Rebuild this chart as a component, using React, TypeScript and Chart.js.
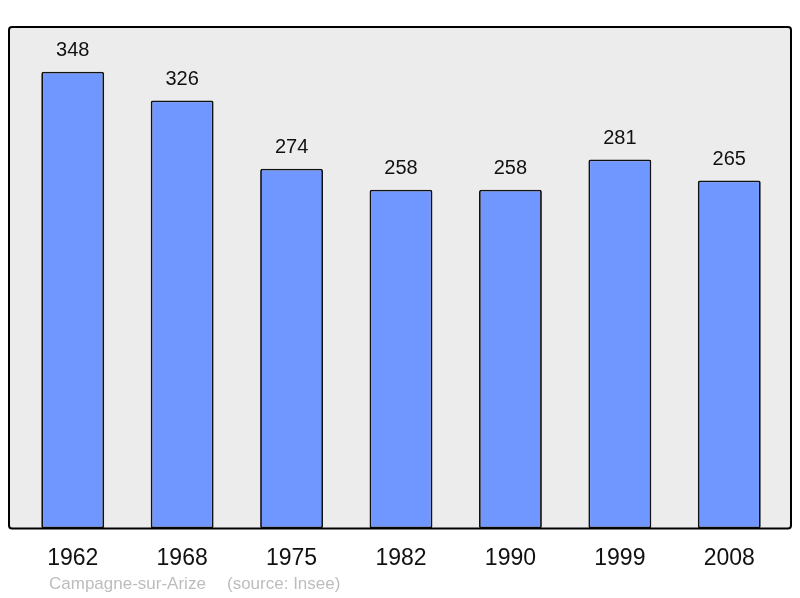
import React, { useEffect, useRef } from "react";
import { Chart, registerables } from "chart.js";

Chart.register(...registerables);

const categories = ["1962", "1968", "1975", "1982", "1990", "1999", "2008"];
const population = [348, 326, 274, 258, 258, 281, 265];
const captionPlace = "Campagne-sur-Arize";
const captionSource = "(source: Insee)";

const FONT = "'Liberation Sans', Arial, sans-serif";

const boxPlugin = {
  id: "boxPlugin",
  beforeDraw(chart: any) {
    const { ctx, chartArea } = chart;
    const x0 = chartArea.left - 9;
    const x1 = chartArea.right + 7;
    const y0 = chartArea.top;
    const y1 = chartArea.bottom;
    ctx.save();
    ctx.beginPath();
    ctx.roundRect(x0, y0, x1 - x0, y1 - y0, 3);
    ctx.fillStyle = "#ececec";
    ctx.fill();
    ctx.restore();
  },
  afterDatasetsDraw(chart: any) {
    const { ctx, chartArea } = chart;
    const x0 = chartArea.left - 9;
    const x1 = chartArea.right + 7;
    const y0 = chartArea.top;
    const y1 = chartArea.bottom;
    ctx.save();
    ctx.beginPath();
    ctx.roundRect(x0, y0, x1 - x0, y1 - y0, 3);
    ctx.lineWidth = 2;
    ctx.strokeStyle = "#000";
    ctx.stroke();

    // value labels
    const meta = chart.getDatasetMeta(0);
    ctx.fillStyle = "#111";
    ctx.font = `20px ${FONT}`;
    ctx.textAlign = "center";
    ctx.textBaseline = "middle";
    meta.data.forEach((bar: any, i: number) => {
      ctx.fillText(String(population[i]), bar.x, bar.y - 21);
    });

    // caption
    ctx.fillStyle = "#bdbdbd";
    ctx.font = `17px ${FONT}`;
    ctx.textAlign = "left";
    ctx.fillText(captionPlace, 49, 584);
    ctx.fillText(captionSource, 227, 584);
    ctx.restore();
  },
};

export default function App() {
  const ref = useRef<HTMLCanvasElement | null>(null);

  useEffect(() => {
    if (!ref.current) return;
    const chart = new Chart(ref.current, {
      type: "bar",
      data: {
        labels: categories,
        datasets: [
          {
            data: population,
            backgroundColor: "#6f97ff",
            borderColor: "#111",
            borderWidth: 1.8,
            borderRadius: 2,
            borderSkipped: false,
            barPercentage: 0.575,
            categoryPercentage: 1,
          },
        ],
      },
      options: {
        animation: false,
        responsive: false,
        layout: { padding: { left: 18, right: 16, top: 27, bottom: 10 } },
        plugins: {
          legend: { display: false },
          tooltip: { enabled: false },
          title: { display: false },
        },
        scales: {
          x: {
            grid: { display: false, drawTicks: false },
            border: { display: false },
            ticks: {
              color: "#111",
              font: { family: FONT, size: 23 },
              padding: 16,
              maxRotation: 0,
            },
          },
          y: {
            display: false,
            min: 0,
            max: 382,
          },
        },
      },
      plugins: [boxPlugin],
    });
    return () => chart.destroy();
  }, []);

  return (
    <div style={{ position: "fixed", left: 0, top: 0, width: 800, height: 598, background: "#fff" }}>
      <canvas ref={ref} width={800} height={598} />
    </div>
  );
}
